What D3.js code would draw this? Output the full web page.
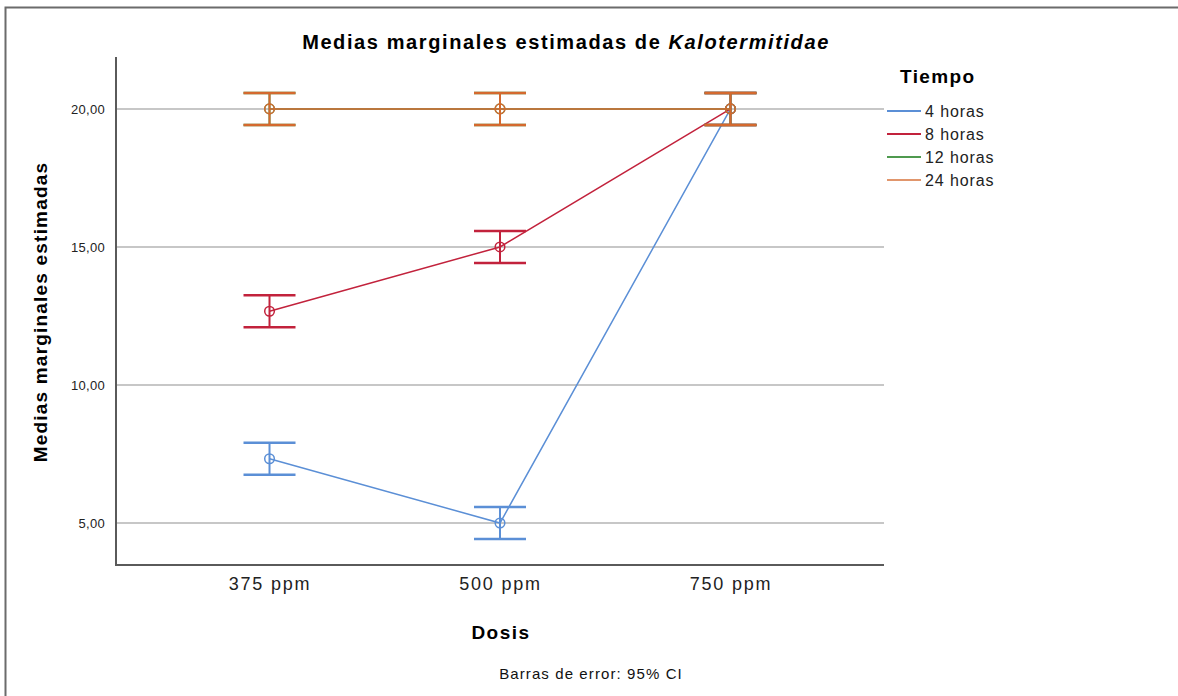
<!DOCTYPE html>
<html>
<head>
<meta charset="utf-8">
<script src="https://cdn.jsdelivr.net/npm/d3@7"></script>
<style>
  html, body { margin: 0; padding: 0; background: #fff; }
  svg { display: block; font-family: "Liberation Sans", Arial, sans-serif; }
</style>
</head>
<body>
<svg id="chart" width="1178" height="696"></svg>
<script>
// Dose levels on the x axis
const doses = ["375 ppm", "500 ppm", "750 ppm"];
// Time groups (series)
const series = ["4 horas", "8 horas", "12 horas", "24 horas"];
const seriesColors = ["#5b8fd6", "#c2223c", "#4f9a4f", "#d4692e"];
// Estimated marginal means per series, by dose
const means4h  = [7.33, 5.00, 20.00];
const means8h  = [12.67, 15.00, 20.00];
const means12h = [20.00, 20.00, 20.00];
const means24h = [20.00, 20.00, 20.00];
// 95% CI half-width (pooled error)
const ciHalf = 0.58;
// Y axis ticks
const yTicks = [5, 10, 15, 20];

const allMeans = [means4h, means8h, means12h, means24h];

const svg = d3.select("#chart");

// Outer frame
svg.append("rect")
  .attr("x", 5.5).attr("y", 7.5)
  .attr("width", 1200).attr("height", 720)
  .attr("fill", "none").attr("stroke", "#6b6b6b").attr("stroke-width", 2);

const plotLeft = 116, plotRight = 884, plotTop = 57, plotBottom = 565;

const x = d3.scalePoint().domain(doses).range([plotLeft, plotRight]).padding(0.666);
const y = d3.scaleLinear().domain([3.48, 21.88]).range([plotBottom, plotTop]);

// Gridlines
svg.append("g")
  .selectAll("line").data(yTicks).join("line")
  .attr("x1", plotLeft).attr("x2", plotRight)
  .attr("y1", d => y(d)).attr("y2", d => y(d))
  .attr("stroke", "#b4b4b4").attr("stroke-width", 1.5);

// Y axis
const yAxis = svg.append("g")
  .attr("transform", `translate(${plotLeft},0)`)
  .call(d3.axisLeft(y).tickValues(yTicks).tickSize(0).tickPadding(11)
    .tickFormat(d => d3.format(".2f")(d).replace(".", ",")));
yAxis.select(".domain").remove();
yAxis.selectAll("text").attr("font-size", 13).attr("fill", "#222")
  .attr("letter-spacing", 0.3)
  .attr("font-family", "Liberation Sans, Arial, sans-serif");

// X axis
const xAxis = svg.append("g")
  .attr("transform", `translate(0,${plotBottom})`)
  .call(d3.axisBottom(x).tickSize(0).tickPadding(12));
xAxis.select(".domain").remove();
xAxis.selectAll("text").attr("font-size", 18).attr("fill", "#222")
  .attr("letter-spacing", 1.8)
  .attr("font-family", "Liberation Sans, Arial, sans-serif");

// Axis lines
svg.append("path")
  .attr("d", `M${plotLeft},${plotTop}V${plotBottom}H${plotRight}`)
  .attr("fill", "none").attr("stroke", "#5a5a5a").attr("stroke-width", 2);

// Series
const line = d3.line().x((d, i) => x(doses[i])).y(d => y(d));
const capW = 26;

series.forEach((s, si) => {
  const vals = allMeans[si];
  const col = seriesColors[si];
  const g = svg.append("g");

  g.append("path").datum(vals)
    .attr("d", line).attr("fill", "none")
    .attr("stroke", col).attr("stroke-width", 1.5);

  const eb = g.selectAll("g.eb").data(vals).join("g").attr("class", "eb");
  eb.append("line")
    .attr("x1", (d, i) => x(doses[i])).attr("x2", (d, i) => x(doses[i]))
    .attr("y1", d => y(d + ciHalf)).attr("y2", d => y(d - ciHalf))
    .attr("stroke", col).attr("stroke-width", 2);
  [1, -1].forEach(sign => {
    eb.append("line")
      .attr("x1", (d, i) => x(doses[i]) - capW).attr("x2", (d, i) => x(doses[i]) + capW)
      .attr("y1", d => y(d + sign * ciHalf)).attr("y2", d => y(d + sign * ciHalf))
      .attr("stroke", col).attr("stroke-width", 2.5);
  });
  eb.append("circle")
    .attr("cx", (d, i) => x(doses[i])).attr("cy", d => y(d))
    .attr("r", 4.8).attr("fill", "none")
    .attr("stroke", col).attr("stroke-width", 1.5);
});

// Title
const title = svg.append("text")
  .attr("x", 566).attr("y", 49).attr("text-anchor", "middle")
  .attr("font-size", 20).attr("font-weight", "bold").attr("fill", "#000")
  .attr("letter-spacing", 1.6);
title.append("tspan").text("Medias marginales estimadas de ");
title.append("tspan").attr("font-style", "italic").text("Kalotermitidae");

// Y axis title
svg.append("text")
  .attr("transform", "translate(47,312) rotate(-90)")
  .attr("text-anchor", "middle")
  .attr("font-size", 19).attr("font-weight", "bold").attr("fill", "#000")
  .attr("letter-spacing", 1.2)
  .text("Medias marginales estimadas");

// X axis title
svg.append("text")
  .attr("x", 501).attr("y", 639).attr("text-anchor", "middle")
  .attr("font-size", 19).attr("font-weight", "bold").attr("fill", "#000")
  .attr("letter-spacing", 1.5)
  .text("Dosis");

// Footnote
svg.append("text")
  .attr("x", 591).attr("y", 679).attr("text-anchor", "middle")
  .attr("font-size", 15).attr("fill", "#111")
  .attr("letter-spacing", 1.1)
  .text("Barras de error: 95% CI");

// Legend
const legend = svg.append("g");
legend.append("text")
  .attr("x", 900).attr("y", 83)
  .attr("font-size", 19).attr("font-weight", "bold").attr("fill", "#000")
  .attr("letter-spacing", 1.4)
  .text("Tiempo");
const items = legend.selectAll("g.item").data(series).join("g").attr("class", "item")
  .attr("transform", (d, i) => `translate(0,${111 + i * 23})`);
items.append("line")
  .attr("x1", 887).attr("x2", 921).attr("y1", 0).attr("y2", 0)
  .attr("stroke", (d, i) => seriesColors[i]).attr("stroke-width", 2)
  .attr("stroke-opacity", (d, i) => i === 3 ? 0.7 : 1);
items.append("text")
  .attr("x", 925).attr("y", 6)
  .attr("font-size", 16).attr("fill", "#222")
  .attr("letter-spacing", 0.9)
  .text(d => d);
</script>
</body>
</html>
